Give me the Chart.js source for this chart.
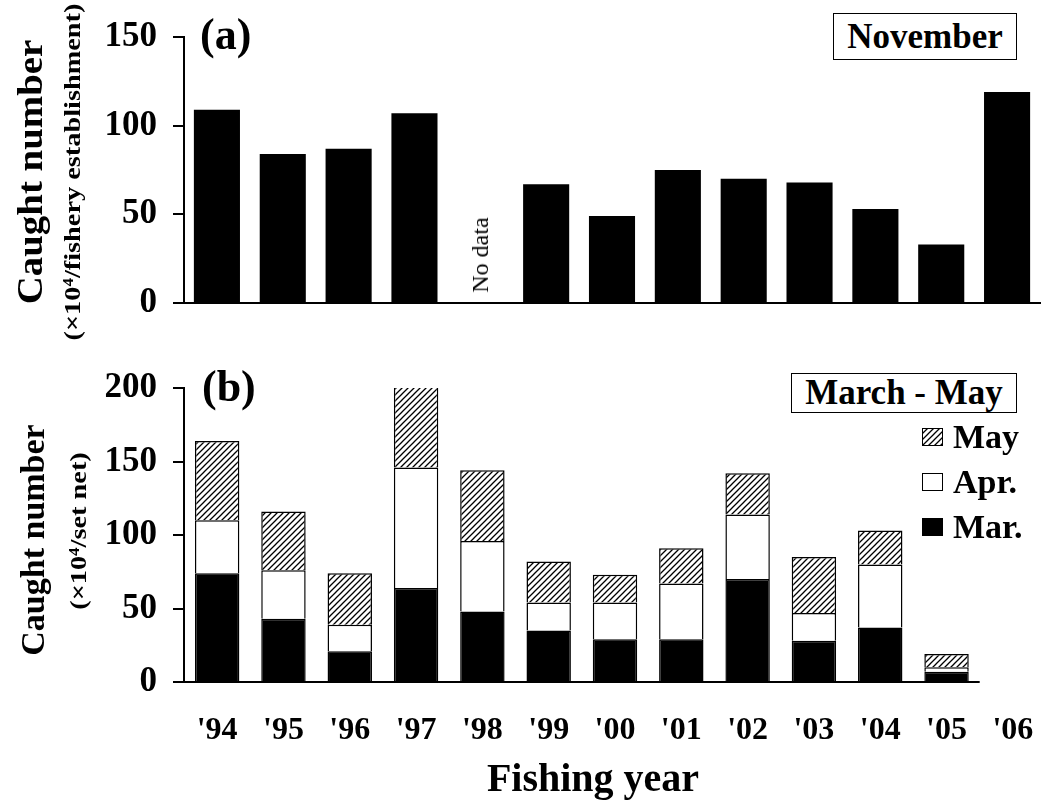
<!DOCTYPE html>
<html>
<head>
<meta charset="utf-8">
<script src="https://cdn.jsdelivr.net/npm/chart.js@4.4.0/dist/chart.umd.min.js"></script>
<style>
  body { margin: 0; background: #fff; }
  #wrap { position: relative; width: 1046px; height: 801px; font-family: 'Liberation Serif', 'Times New Roman', serif; color: #000; overflow: hidden; }
  #wrap canvas { position: absolute; left: 0; }
  .txt { position: absolute; white-space: nowrap; line-height: 1; font-weight: bold; }
  .panel { font-size: 44px; }
  .box { position: absolute; border: 1.5px solid #000; box-sizing: border-box; display: flex; align-items: center; justify-content: center; font-size: 35px; font-weight: bold; background: #fff; }
  .legend { position: absolute; left: 922px; top: 414px; }
  .legend .row { height: 45px; display: flex; align-items: center; font-size: 34px; font-weight: bold; line-height: 1; }
  .legend canvas { position: static !important; margin-right: 10px; }
</style>
</head>
<body>
<div id="wrap">
  <canvas id="novChart" width="1046" height="340" style="top:0;width:1046px;height:340px"></canvas>
  <canvas id="sprChart" width="1046" height="461" style="top:340px;width:1046px;height:461px"></canvas>

  <div class="txt panel" style="left:200px;top:13px">(a)</div>
  <div class="txt panel" style="left:202px;top:365px">(b)</div>
  <div class="box" style="left:833px;top:13px;width:184px;height:47px">November</div>
  <div class="box" style="left:791px;top:373px;width:226px;height:40px">March - May</div>

  <div class="txt" style="left:480px;top:255px;font-size:24px;font-weight:normal;transform:translate(-50%,-50%) rotate(-90deg)">No data</div>

  <div class="txt" style="left:30px;top:172px;font-size:36px;transform:translate(-50%,-50%) rotate(-90deg) scaleX(1.08)">Caught number</div>
  <div class="txt" style="left:72px;top:172px;font-size:24px;transform:translate(-50%,-50%) rotate(-90deg) scaleX(1.18)">(×10⁴/fishery establishment)</div>
  <div class="txt" style="left:33px;top:540px;font-size:34px;transform:translate(-50%,-50%) rotate(-90deg)">Caught number</div>
  <div class="txt" style="left:78px;top:531px;font-size:24px;transform:translate(-50%,-50%) rotate(-90deg) scaleX(1.18)">(×10⁴/set net)</div>

  <div class="txt" style="left:593px;top:758px;font-size:40px;transform:translateX(-50%)">Fishing year</div>

  <div class="legend" id="legend"></div>
</div>
<script>
// Fishing years
const years = ["'94", "'95", "'96", "'97", "'98", "'99", "'00", "'01", "'02", "'03", "'04", "'05", "'06"];

// (a) November, x10^4 per fishery establishment ('98 no data)
const novCatch = [109, 84, 87, 107, null, 67, 49, 75, 70, 68, 53, 33, 119];

// (b) March - May, x10^4 per set net ('06 none)
const marCatch = [74, 43, 21, 64, 48, 35, 29, 29, 70, 28, 37, 7, null];
const aprCatch = [36, 33, 18, 82, 48, 19, 25, 38, 44, 19, 43, 3, null];
const mayCatch = [54, 40, 35, 55, 48, 28, 19, 24, 28, 38, 23, 9, null];

Chart.defaults.font.family = "'Liberation Serif', 'Times New Roman', serif";
Chart.defaults.color = '#000';

// diagonal hatch used for May
function makeHatch() {
    const s = 6;
    const tile = document.createElement('canvas');
    tile.width = s; tile.height = s;
    const t = tile.getContext('2d');
    t.fillStyle = '#fff';
    t.fillRect(0, 0, s, s);
    t.strokeStyle = '#000';
    t.lineWidth = 1.3;
    t.beginPath();
    t.moveTo(0, s); t.lineTo(s, 0);
    t.moveTo(-1, 1); t.lineTo(1, -1);
    t.moveTo(s - 1, s + 1); t.lineTo(s + 1, s - 1);
    t.stroke();
    return t.createPattern(tile, 'repeat');
}
const hatch = makeHatch();

const yTicks = { stepSize: 50, padding: 16, font: { size: 35, weight: 'bold' }, color: '#000' };
const yGrid = { drawOnChartArea: false, drawTicks: true, tickLength: 11, color: '#000', lineWidth: 2 };

// keep the plot area where it is in the figure
function fixX(height) {
    return s => { s.height = height; s.paddingLeft = 0; s.paddingRight = 0; };
}

// (a) November
new Chart(document.getElementById('novChart'), {
    type: 'bar',
    data: {
        labels: years,
        datasets: [{
            label: 'November',
            data: novCatch,
            backgroundColor: '#000',
            borderWidth: 0,
            barPercentage: 0.7,
            categoryPercentage: 1
        }]
    },
    options: {
        responsive: false,
        animation: false,
        devicePixelRatio: 1,
        layout: { padding: { top: 33, right: 6, bottom: 27, left: 0 } },
        plugins: { legend: { display: false }, tooltip: { enabled: false } },
        scales: {
            x: {
                grid: { display: false, drawTicks: false },
                ticks: { display: false },
                border: { color: '#000', width: 2 },
                afterFit: fixX(0)
            },
            y: {
                min: 0,
                max: 150,
                ticks: yTicks,
                grid: yGrid,
                border: { color: '#000', width: 2 },
                afterFit: s => { s.width = 184; }
            }
        }
    }
});

// x baseline of (b) stops just after the last bar
const shortBaseline = {
    id: 'shortBaseline',
    afterDatasetsDraw(chart) {
        const { ctx, chartArea, scales: { x, y } } = chart;
        const yy = y.getPixelForValue(0);
        ctx.save();
        ctx.strokeStyle = '#000';
        ctx.lineWidth = 2;
        ctx.beginPath();
        ctx.moveTo(chartArea.left - 1, yy);
        ctx.lineTo(x.getPixelForValue(11.5), yy);
        ctx.stroke();
        ctx.restore();
    }
};

// (b) March - May
new Chart(document.getElementById('sprChart'), {
    type: 'bar',
    data: {
        labels: years,
        datasets: [
            { label: 'Mar.', data: marCatch, backgroundColor: '#000' },
            { label: 'Apr.', data: aprCatch, backgroundColor: '#fff' },
            { label: 'May', data: mayCatch, backgroundColor: hatch }
        ].map(d => Object.assign(d, {
            borderColor: '#000',
            borderWidth: 1.5,
            barPercentage: 0.67,
            categoryPercentage: 1
        }))
    },
    options: {
        responsive: false,
        animation: false,
        devicePixelRatio: 1,
        layout: { padding: { top: 48, right: 0, bottom: 0, left: 0 } },
        plugins: { legend: { display: false }, tooltip: { enabled: false } },
        scales: {
            x: {
                stacked: true,
                grid: { display: false, drawTicks: false },
                border: { display: false },
                ticks: { padding: 30, maxRotation: 0, autoSkip: false, font: { size: 32, weight: 'bold' }, color: '#000' },
                afterFit: fixX(119)
            },
            y: {
                stacked: true,
                min: 0,
                max: 200,
                ticks: yTicks,
                grid: yGrid,
                border: { color: '#000', width: 2 },
                afterFit: s => { s.width = 184; }
            }
        }
    },
    plugins: [shortBaseline]
});

// legend (May on top, as in the figure)
const legendItems = [
    { label: 'May', fill: hatch },
    { label: 'Apr.', fill: '#fff' },
    { label: 'Mar.', fill: '#000' }
];
const legendBox = document.getElementById('legend');
legendItems.forEach(item => {
    const row = document.createElement('div');
    row.className = 'row';
    const sw = document.createElement('canvas');
    sw.width = 21; sw.height = 18;
    const c = sw.getContext('2d');
    c.fillStyle = item.fill;
    c.fillRect(0, 0, 21, 18);
    c.strokeStyle = '#000';
    c.lineWidth = 1;
    c.strokeRect(0.5, 0.5, 20, 17);
    row.appendChild(sw);
    const span = document.createElement('span');
    span.textContent = item.label;
    row.appendChild(span);
    legendBox.appendChild(row);
});
</script>
</body>
</html>
